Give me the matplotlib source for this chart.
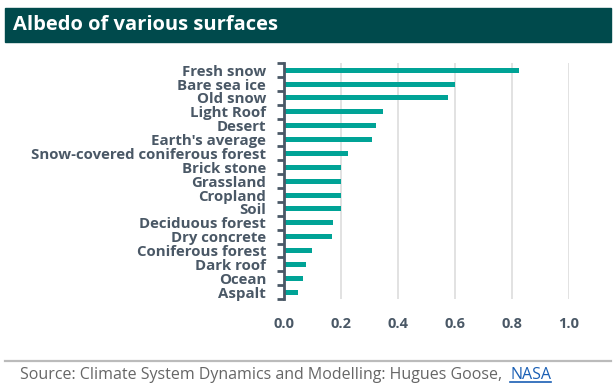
import matplotlib
matplotlib.use("Agg")
import matplotlib.pyplot as plt
from matplotlib.patches import Rectangle
from matplotlib.lines import Line2D

categories = ["Fresh snow", "Bare sea ice", "Old snow", "Light Roof", "Desert",
              "Earth's average", "Snow-covered coniferous forest", "Brick stone",
              "Grassland", "Cropland", "Soil", "Deciduous forest", "Dry concrete",
              "Coniferous forest", "Dark roof", "Ocean", "Aspalt"]
albedo = [0.825, 0.6, 0.575, 0.35, 0.325, 0.31, 0.225, 0.2, 0.2, 0.2, 0.2,
          0.175, 0.17, 0.1, 0.08, 0.07, 0.05]
xticks = [0.0, 0.2, 0.4, 0.6, 0.8, 1.0]
xtick_labels = ["0.0", "0.2", "0.4", "0.6", "0.8", "1.0"]

TEAL = "#00a396"
DARK = "#004a4c"
LABEL = "#4a5866"
FONT = ["Open Sans", "DejaVu Sans"]

W, H = 616, 387
fig = plt.figure(figsize=(W / 100, H / 100), dpi=100)

# Title bar
fig.patches.append(Rectangle((5 / W, 1 - 42 / H), 606 / W, 34 / H,
                             transform=fig.transFigure, color=DARK, zorder=0))
fig.text(13 / W, 1 - 25 / H, "Albedo of various surfaces", color="white",
         fontsize=14.5, fontweight="bold", family=FONT, va="center", ha="left")

# Axes
left, right, top, bottom = 283.5, 569, 63.3, 299
ax = fig.add_axes([left / W, 1 - bottom / H, (right - left) / W, (bottom - top) / H])
n = len(categories)
ypos = list(range(n))
ax.barh(ypos, albedo, height=0.36, color=TEAL, zorder=3)
ax.set_ylim(n - 0.5, -0.5)
ax.set_xlim(0, 1.0)

ax.set_yticks(ypos)
ax.set_yticklabels(categories)
ax.set_yticks([i - 0.5 for i in range(n + 1)], minor=True)
ax.tick_params(axis="y", which="major", length=0, pad=12.5)
ax.tick_params(axis="y", which="minor", length=5, width=2, color=LABEL)
for lab in ax.get_yticklabels():
    lab.set_fontsize(10.8)
    lab.set_fontweight("bold")
    lab.set_color(LABEL)
    lab.set_family(FONT)

ax.set_xticks(xticks)
ax.set_xticklabels(xtick_labels)
ax.tick_params(axis="x", length=0, pad=13)
for lab in ax.get_xticklabels():
    lab.set_fontsize(10.5)
    lab.set_fontweight("bold")
    lab.set_color(LABEL)
    lab.set_family(FONT)

ax.grid(axis="x", color="#dddddd", linewidth=1.2, zorder=0)
for s in ["top", "right", "bottom"]:
    ax.spines[s].set_visible(False)
ax.spines["left"].set_color(LABEL)
ax.spines["left"].set_linewidth(2)
ax.spines["left"].set_zorder(4)

# Separator and source
fig.lines.append(Line2D([5 / W, 611 / W], [1 - 361 / H, 1 - 361 / H],
                        transform=fig.transFigure, color="#bbbbbb", linewidth=1.6))
src = fig.text(20 / W, 1 - 375 / H,
               "Source: Climate System Dynamics and Modelling: Hugues Goose,  ",
               color="#666666", fontsize=11.5, family=FONT, va="center", ha="left")
fig.canvas.draw()
bb = src.get_window_extent()
nasa = fig.text(bb.x1 / W, 1 - 375 / H, "NASA", color="#1a5fb4", fontsize=11.5,
                family=FONT, va="center", ha="left")
fig.canvas.draw()
nb = nasa.get_window_extent()
fig.lines.append(Line2D([nb.x0 / W, nb.x1 / W], [(nb.y0 + 1) / H, (nb.y0 + 1) / H],
                        transform=fig.transFigure, color="#1a5fb4", linewidth=1.2))

fig.savefig("out.png", dpi=100)
